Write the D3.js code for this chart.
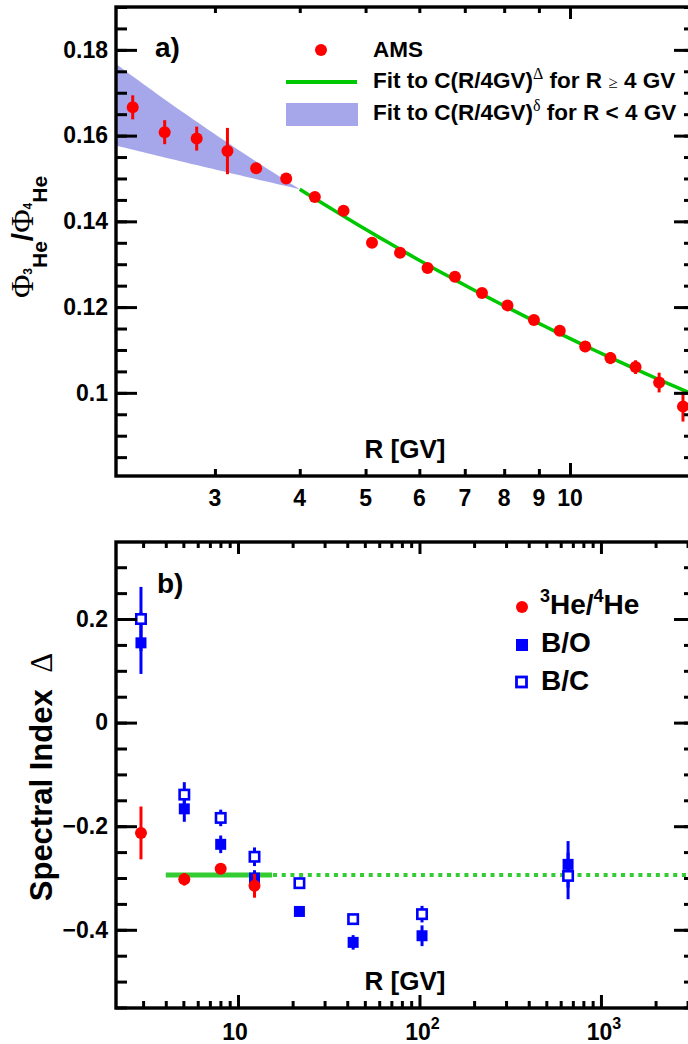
<!DOCTYPE html>
<html><head><meta charset="utf-8">
<script src="https://cdn.jsdelivr.net/npm/d3@7"></script>
<style>
body{margin:0;background:#fff;}
svg text{font-family:"Liberation Sans",Arial,Helvetica,sans-serif;font-weight:bold;fill:#000;}
svg .greek{font-family:"Liberation Serif","DejaVu Serif",serif;font-weight:normal;}
</style></head><body>
<svg id="c" width="688" height="1044"></svg>
<script>
// ---------- Panel a) : 3He/4He flux ratio ----------
const heR     = [2.27,2.53,2.82,3.13,3.45,3.82,4.21,4.64,5.11,5.62,6.17,6.77,7.42,8.09,8.85,9.66,10.53,11.47,12.49,13.53,14.67];
const heRatio = [0.1666,0.1608,0.1593,0.1564,0.1524,0.1500,0.1457,0.1425,0.1350,0.1327,0.1291,0.1271,0.1233,0.1204,0.1170,0.1145,0.1108,0.1081,0.1060,0.1024,0.0968];
const heErr   = [0.0028,0.0028,0.0028,0.0054,0.0010,0.0010,0.0010,0.0010,0.0010,0.0010,0.0010,0.0010,0.0010,0.0010,0.0012,0.0012,0.0013,0.0014,0.0016,0.0023,0.0035];
const fitC = 0.1475, fitDelta = -0.294, fitR0 = 4;          // C(R/4GV)^Delta, R >= 4 GV
const bandDeltaHigh = -0.290, bandDeltaLow = -0.107;         // C(R/4GV)^delta band, R < 4 GV
const aXTickLabels = [3,4,5,6,7,8,9,10];
const aYMajor = [0.1,0.12,0.14,0.16,0.18];
const aYLabels = ["0.1","0.12","0.14","0.16","0.18"];

// ---------- Panel b) : spectral indices ----------
const heIdxR   = [2.92,5.06,8.03,12.33];
const heIdx    = [-0.213,-0.3025,-0.282,-0.315];
const heIdxErr = [0.051,0.012,0.008,0.023];
const bR       = [2.92,5.06,8.03,12.33,21.8,43.1,103.3,659];
const boIdx    = [0.154,-0.1665,-0.235,-0.300,-0.3646,-0.4243,-0.4115,-0.2737];
const boErr    = [0.060,0.025,0.017,0.015,0.008,0.014,0.020,0.045];
const bcIdx    = [0.200,-0.139,-0.184,-0.259,-0.310,-0.3794,-0.3698,-0.296];
const bcErr    = [0.062,0.024,0.016,0.018,0.008,0.008,0.016,0.045];
const bFitDelta = -0.294, bFitSolid = [4,15.4];
const bYMajor = [-0.4,-0.2,0,0.2];
const bYLabels = ["\u22120.4","\u22120.2","0","0.2"];
const bXMajor = [10,100,1000];
const bXExp = ["", "2", "3"];

const RED="#ff0000", BLUE="#0000ff", GREEN_A="#00c800", GREEN_B="#33cc33", BAND="#a5a7ea";

const svg = d3.select("#c");
const L=116, Rr=695;
const aTop=7, aBot=476, bTop=542, bBot=1008;

const xa = d3.scaleLog().domain([2.145,15.28]).range([L,Rr]);
const ya = d3.scaleLinear().domain([0.0806,0.19]).range([aBot,aTop]);
const xb = d3.scaleLog().domain([2.127,3298]).range([L,Rr]);
const yb = d3.scaleLinear().domain([-0.551,0.3487]).range([bBot,bTop]);

function styleTicks(g){ g.select(".domain").remove(); g.selectAll("line").attr("stroke","#000").attr("stroke-width",3); }

function frameAxes(x,y,top,bot,xMinor,xMajor,yMinor,yMajor,yLab){
  const g = svg.append("g");
  g.append("g").attr("transform",`translate(${L},0)`).call(d3.axisLeft(y).tickValues(yMajor).tickSize(-21).tickPadding(8).tickFormat((d,i)=>yLab[i])).call(styleTicks)
    .selectAll("text").attr("font-size",23).attr("fill","#000");
  g.append("g").attr("transform",`translate(${L},0)`).call(d3.axisLeft(y).tickValues(yMinor).tickSize(-11).tickFormat("")).call(styleTicks);
  g.append("g").attr("transform",`translate(${Rr},0)`).call(d3.axisRight(y).tickValues(yMajor).tickSize(-21).tickFormat("")).call(styleTicks);
  g.append("g").attr("transform",`translate(${Rr},0)`).call(d3.axisRight(y).tickValues(yMinor).tickSize(-11).tickFormat("")).call(styleTicks);
  g.append("g").attr("transform",`translate(0,${bot})`).call(d3.axisBottom(x).tickValues(xMajor).tickSize(-13).tickFormat("")).call(styleTicks);
  g.append("g").attr("transform",`translate(0,${bot})`).call(d3.axisBottom(x).tickValues(xMinor).tickSize(-7).tickFormat("")).call(styleTicks);
  g.append("g").attr("transform",`translate(0,${top})`).call(d3.axisTop(x).tickValues(xMajor).tickSize(-12).tickFormat("")).call(styleTicks);
  g.append("g").attr("transform",`translate(0,${top})`).call(d3.axisTop(x).tickValues(xMinor).tickSize(-6).tickFormat("")).call(styleTicks);
  g.append("rect").attr("x",L).attr("y",top).attr("width",Rr-L).attr("height",bot-top)
    .attr("fill","none").attr("stroke","#000").attr("stroke-width",3.4);
  return g;
}

// ===== Panel a =====
svg.append("clipPath").attr("id","ca").append("rect").attr("x",L).attr("y",aTop).attr("width",Rr-L).attr("height",aBot-aTop);
const pa = svg.append("g").attr("clip-path","url(#ca)");
const bandR = d3.range(0,41).map(i=>xa.domain()[0]*Math.pow(fitR0/xa.domain()[0],i/40));
const bandArea = d3.area().x(r=>xa(r)).y0(r=>ya(fitC*Math.pow(r/fitR0,bandDeltaLow))).y1(r=>ya(fitC*Math.pow(r/fitR0,bandDeltaHigh)));
pa.append("path").datum(bandR).attr("d",bandArea).attr("fill",BAND);
const fitRs = d3.range(0,41).map(i=>fitR0*Math.pow(xa.domain()[1]/fitR0,i/40));
pa.append("path").datum(fitRs).attr("d",d3.line().x(r=>xa(r)).y(r=>ya(fitC*Math.pow(r/fitR0,fitDelta))))
  .attr("fill","none").attr("stroke",GREEN_A).attr("stroke-width",3.5);
const aPts = heR.map((r,i)=>({r,v:heRatio[i],e:heErr[i]}));
pa.selectAll(".ea").data(aPts).enter().append("line").attr("x1",d=>xa(d.r)).attr("x2",d=>xa(d.r))
  .attr("y1",d=>ya(d.v-d.e)).attr("y2",d=>ya(d.v+d.e)).attr("stroke",RED).attr("stroke-width",3);
pa.selectAll(".pa").data(aPts).enter().append("circle").attr("cx",d=>xa(d.r)).attr("cy",d=>ya(d.v)).attr("r",6).attr("fill",RED);

frameAxes(xa,ya,aTop,aBot,[3,4,5,6,7,8,9],[10],d3.range(17,39).map(i=>i*0.005),aYMajor,aYLabels);
svg.append("g").selectAll("text").data(aXTickLabels).enter().append("text")
  .attr("x",d=>xa(d)).attr("y",506).attr("text-anchor","middle").attr("font-size",23).text(d=>d);
svg.append("text").attr("x",405).attr("y",458).attr("text-anchor","middle").attr("font-size",26).text("R [GV]");
svg.append("text").attr("x",155).attr("y",57).attr("font-size",28).text("a)");
{
  const t = svg.append("text").attr("transform","translate(33,237) rotate(-90)").attr("text-anchor","middle");
  t.append("tspan").attr("class","greek").attr("font-size",32).text("\u03A6");
  t.append("tspan").attr("font-size",12).attr("dy",-1).text("3");
  t.append("tspan").attr("font-size",21).attr("dy",15).text("He");
  t.append("tspan").attr("font-size",30).attr("dy",-14).text("/");
  t.append("tspan").attr("class","greek").attr("font-size",32).text("\u03A6");
  t.append("tspan").attr("font-size",12).attr("dy",-1).text("4");
  t.append("tspan").attr("font-size",21).attr("dy",15).text("He");
}
svg.append("circle").attr("cx",321).attr("cy",50).attr("r",6).attr("fill",RED);
svg.append("text").attr("x",373).attr("y",57).attr("font-size",22.5).text("AMS");
svg.append("line").attr("x1",286).attr("x2",357).attr("y1",82).attr("y2",82).attr("stroke",GREEN_A).attr("stroke-width",4);
{
  const t = svg.append("text").attr("x",373).attr("y",88).attr("font-size",22.5);
  t.append("tspan").text("Fit to C(R/4GV)");
  t.append("tspan").attr("class","greek").attr("font-size",16).attr("dy",-9).text("\u0394");
  t.append("tspan").attr("dy",9).text(" for R ");
  t.append("tspan").attr("class","greek").attr("font-size",17).text("\u2265");
  t.append("tspan").text(" 4 GV");
}
svg.append("rect").attr("x",286).attr("y",103).attr("width",72).attr("height",23).attr("fill",BAND);
{
  const t = svg.append("text").attr("x",373).attr("y",120).attr("font-size",22.5);
  t.append("tspan").text("Fit to C(R/4GV)");
  t.append("tspan").attr("class","greek").attr("font-size",16).attr("dy",-9).text("\u03B4");
  t.append("tspan").attr("dy",9).text(" for R < 4 GV");
}

// ===== Panel b =====
svg.append("clipPath").attr("id","cb").append("rect").attr("x",L).attr("y",bTop).attr("width",Rr-L).attr("height",bBot-bTop);
const pb = svg.append("g").attr("clip-path","url(#cb)");
pb.append("line").attr("x1",xb(bFitSolid[0])).attr("x2",xb(bFitSolid[1])).attr("y1",yb(bFitDelta)).attr("y2",yb(bFitDelta))
  .attr("stroke",GREEN_B).attr("stroke-width",5);
pb.append("line").attr("x1",xb(bFitSolid[1])+1).attr("x2",Rr).attr("y1",yb(bFitDelta)).attr("y2",yb(bFitDelta))
  .attr("stroke",GREEN_B).attr("stroke-width",4).attr("stroke-dasharray","4,4.7");
const boPts = bR.map((r,i)=>({r,v:boIdx[i],e:boErr[i]}));
const bcPts = bR.map((r,i)=>({r,v:bcIdx[i],e:bcErr[i]}));
const hePts = heIdxR.map((r,i)=>({r,v:heIdx[i],e:heIdxErr[i]}));
function ebars(data,col){
  pb.append("g").selectAll("line").data(data).enter().append("line").attr("x1",d=>xb(d.r)).attr("x2",d=>xb(d.r))
    .attr("y1",d=>yb(d.v-d.e)).attr("y2",d=>yb(d.v+d.e)).attr("stroke",col).attr("stroke-width",3);
}
ebars(bcPts,BLUE); ebars(boPts,BLUE);
pb.append("g").selectAll("rect").data(boPts).enter().append("rect").attr("x",d=>xb(d.r)-5.5).attr("y",d=>yb(d.v)-5.5)
  .attr("width",11).attr("height",11).attr("fill",BLUE);
pb.append("g").selectAll("rect").data(bcPts).enter().append("rect").attr("x",d=>xb(d.r)-4.7).attr("y",d=>yb(d.v)-4.7)
  .attr("width",9.4).attr("height",9.4).attr("fill","#fff").attr("stroke",BLUE).attr("stroke-width",2.6);
ebars(hePts,RED);
pb.append("g").selectAll("circle").data(hePts).enter().append("circle").attr("cx",d=>xb(d.r)).attr("cy",d=>yb(d.v)).attr("r",6).attr("fill",RED);

const bXMinor = [3,4,5,6,7,8,9,20,30,40,50,60,70,80,90,200,300,400,500,600,700,800,900,2000,3000];
frameAxes(xb,yb,bTop,bBot,bXMinor,bXMajor,d3.range(-11,7).map(i=>i*0.05),bYMajor,bYLabels);
{
  const g = svg.append("g");
  bXMajor.forEach((v,i)=>{
    const t = g.append("text").attr("x",xb(v)+(i?3:-3)).attr("y",1040).attr("text-anchor","middle").attr("font-size",23);
    t.append("tspan").text("10");
    if(bXExp[i]) t.append("tspan").attr("font-size",16).attr("dy",-11).text(bXExp[i]);
  });
}
svg.append("text").attr("x",405).attr("y",990).attr("text-anchor","middle").attr("font-size",26).text("R [GV]");
svg.append("text").attr("x",157).attr("y",593).attr("font-size",28).text("b)");
{
  const t = svg.append("text").attr("transform","translate(52,777) rotate(-90)").attr("text-anchor","middle").attr("font-size",31);
  t.append("tspan").text("Spectral Index ");
  t.append("tspan").attr("class","greek").attr("dx",8).text("\u0394");
}
svg.append("circle").attr("cx",522).attr("cy",607).attr("r",6).attr("fill",RED);
{
  const t = svg.append("text").attr("x",540).attr("y",614).attr("font-size",28);
  t.append("tspan").attr("font-size",18).attr("dy",-12).text("3");
  t.append("tspan").attr("dy",12).text("He/");
  t.append("tspan").attr("font-size",18).attr("dy",-12).text("4");
  t.append("tspan").attr("dy",12).text("He");
}
svg.append("rect").attr("x",516).attr("y",639).attr("width",12).attr("height",12).attr("fill",BLUE);
svg.append("text").attr("x",541).attr("y",652).attr("font-size",28).text("B/O");
svg.append("rect").attr("x",516.5).attr("y",677).attr("width",10).attr("height",10).attr("fill","#fff").attr("stroke",BLUE).attr("stroke-width",2.8);
svg.append("text").attr("x",541).attr("y",690).attr("font-size",28).text("B/C");
</script>
</body></html>
